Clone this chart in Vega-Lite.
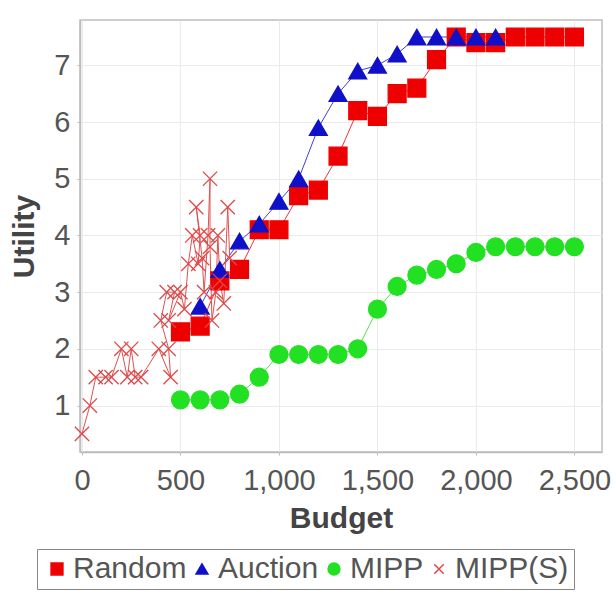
{
  "$schema": "https://vega.github.io/schema/vega-lite/v6.json",
  "width": 522,
  "height": 432,
  "autosize": {"type": "none"},
  "padding": {"left": 80, "top": 20, "right": 14, "bottom": 157},
  "background": "white",
  "config": {
    "font": "Liberation Sans",
    "view": {"stroke": "#bdbdbd", "strokeWidth": 1.5},
    "axis": {
      "labelFont": "Liberation Sans",
      "labelFontSize": 29,
      "labelColor": "#555555",
      "titleFont": "Liberation Sans",
      "titleFontSize": 30,
      "titleFontWeight": "bold",
      "titleColor": "#444444",
      "gridColor": "#ebebeb",
      "gridWidth": 1,
      "domainColor": "#bdbdbd",
      "domainWidth": 1.5,
      "tickColor": "#bdbdbd",
      "tickSize": 3
    },
    "legend": {
      "orient": "none", "legendX": -43, "legendY": 529,
      "direction": "horizontal",
      "labelFont": "Liberation Sans", "labelFontSize": 30, "labelColor": "#555555",
      "symbolSize": 140, "labelOffset": 1, "columnPadding": 0,
      "strokeColor": "#888888", "padding": 5,
      "symbolStrokeWidth": 1.5
    }
  },
  "data": {"values": [
      {"series": "Random", "budget": 500, "utility": 2.3},
      {"series": "Random", "budget": 600, "utility": 2.4},
      {"series": "Random", "budget": 700, "utility": 3.2},
      {"series": "Random", "budget": 800, "utility": 3.4},
      {"series": "Random", "budget": 900, "utility": 4.1},
      {"series": "Random", "budget": 1000, "utility": 4.1},
      {"series": "Random", "budget": 1100, "utility": 4.7},
      {"series": "Random", "budget": 1200, "utility": 4.8},
      {"series": "Random", "budget": 1300, "utility": 5.4},
      {"series": "Random", "budget": 1400, "utility": 6.2},
      {"series": "Random", "budget": 1500, "utility": 6.1},
      {"series": "Random", "budget": 1600, "utility": 6.5},
      {"series": "Random", "budget": 1700, "utility": 6.6},
      {"series": "Random", "budget": 1800, "utility": 7.1},
      {"series": "Random", "budget": 1900, "utility": 7.5},
      {"series": "Random", "budget": 2000, "utility": 7.4},
      {"series": "Random", "budget": 2100, "utility": 7.4},
      {"series": "Random", "budget": 2200, "utility": 7.5},
      {"series": "Random", "budget": 2300, "utility": 7.5},
      {"series": "Random", "budget": 2400, "utility": 7.5},
      {"series": "Random", "budget": 2500, "utility": 7.5},
      {"series": "Auction", "budget": 600, "utility": 2.75},
      {"series": "Auction", "budget": 700, "utility": 3.4},
      {"series": "Auction", "budget": 800, "utility": 3.9},
      {"series": "Auction", "budget": 900, "utility": 4.2},
      {"series": "Auction", "budget": 1000, "utility": 4.6},
      {"series": "Auction", "budget": 1100, "utility": 5.0},
      {"series": "Auction", "budget": 1200, "utility": 5.9},
      {"series": "Auction", "budget": 1300, "utility": 6.5},
      {"series": "Auction", "budget": 1400, "utility": 6.9},
      {"series": "Auction", "budget": 1500, "utility": 7.0},
      {"series": "Auction", "budget": 1600, "utility": 7.2},
      {"series": "Auction", "budget": 1700, "utility": 7.5},
      {"series": "Auction", "budget": 1800, "utility": 7.5},
      {"series": "Auction", "budget": 1900, "utility": 7.5},
      {"series": "Auction", "budget": 2000, "utility": 7.5},
      {"series": "Auction", "budget": 2100, "utility": 7.5},
      {"series": "MIPP", "budget": 500, "utility": 1.1},
      {"series": "MIPP", "budget": 600, "utility": 1.1},
      {"series": "MIPP", "budget": 700, "utility": 1.1},
      {"series": "MIPP", "budget": 800, "utility": 1.2},
      {"series": "MIPP", "budget": 900, "utility": 1.5},
      {"series": "MIPP", "budget": 1000, "utility": 1.9},
      {"series": "MIPP", "budget": 1100, "utility": 1.9},
      {"series": "MIPP", "budget": 1200, "utility": 1.9},
      {"series": "MIPP", "budget": 1300, "utility": 1.9},
      {"series": "MIPP", "budget": 1400, "utility": 2.0},
      {"series": "MIPP", "budget": 1500, "utility": 2.7},
      {"series": "MIPP", "budget": 1600, "utility": 3.1},
      {"series": "MIPP", "budget": 1700, "utility": 3.3},
      {"series": "MIPP", "budget": 1800, "utility": 3.4},
      {"series": "MIPP", "budget": 1900, "utility": 3.5},
      {"series": "MIPP", "budget": 2000, "utility": 3.7},
      {"series": "MIPP", "budget": 2100, "utility": 3.8},
      {"series": "MIPP", "budget": 2200, "utility": 3.8},
      {"series": "MIPP", "budget": 2300, "utility": 3.8},
      {"series": "MIPP", "budget": 2400, "utility": 3.8},
      {"series": "MIPP", "budget": 2500, "utility": 3.8},
      {"series": "MIPP(S)", "i": 1, "budget": 0, "utility": 0.5},
      {"series": "MIPP(S)", "i": 2, "budget": 40, "utility": 1.0},
      {"series": "MIPP(S)", "i": 3, "budget": 70, "utility": 1.5},
      {"series": "MIPP(S)", "i": 4, "budget": 120, "utility": 1.5},
      {"series": "MIPP(S)", "i": 5, "budget": 150, "utility": 1.5},
      {"series": "MIPP(S)", "i": 6, "budget": 200, "utility": 2.0},
      {"series": "MIPP(S)", "i": 7, "budget": 230, "utility": 1.5},
      {"series": "MIPP(S)", "i": 8, "budget": 250, "utility": 2.0},
      {"series": "MIPP(S)", "i": 9, "budget": 270, "utility": 1.5},
      {"series": "MIPP(S)", "i": 10, "budget": 300, "utility": 1.5},
      {"series": "MIPP(S)", "i": 11, "budget": 390, "utility": 2.0},
      {"series": "MIPP(S)", "i": 12, "budget": 450, "utility": 1.5},
      {"series": "MIPP(S)", "i": 13, "budget": 440, "utility": 2.0},
      {"series": "MIPP(S)", "i": 14, "budget": 400, "utility": 2.5},
      {"series": "MIPP(S)", "i": 15, "budget": 430, "utility": 3.0},
      {"series": "MIPP(S)", "i": 16, "budget": 470, "utility": 3.0},
      {"series": "MIPP(S)", "i": 17, "budget": 440, "utility": 2.5},
      {"series": "MIPP(S)", "i": 18, "budget": 500, "utility": 3.0},
      {"series": "MIPP(S)", "i": 19, "budget": 520, "utility": 2.7},
      {"series": "MIPP(S)", "i": 20, "budget": 540, "utility": 3.5},
      {"series": "MIPP(S)", "i": 21, "budget": 560, "utility": 4.0},
      {"series": "MIPP(S)", "i": 22, "budget": 590, "utility": 3.5},
      {"series": "MIPP(S)", "i": 23, "budget": 600, "utility": 4.0},
      {"series": "MIPP(S)", "i": 24, "budget": 580, "utility": 4.5},
      {"series": "MIPP(S)", "i": 25, "budget": 610, "utility": 3.6},
      {"series": "MIPP(S)", "i": 26, "budget": 620, "utility": 3.0},
      {"series": "MIPP(S)", "i": 27, "budget": 640, "utility": 4.0},
      {"series": "MIPP(S)", "i": 28, "budget": 650, "utility": 5.0},
      {"series": "MIPP(S)", "i": 29, "budget": 650, "utility": 3.8},
      {"series": "MIPP(S)", "i": 30, "budget": 660, "utility": 2.5},
      {"series": "MIPP(S)", "i": 31, "budget": 680, "utility": 3.0},
      {"series": "MIPP(S)", "i": 32, "budget": 690, "utility": 4.0},
      {"series": "MIPP(S)", "i": 33, "budget": 700, "utility": 3.2},
      {"series": "MIPP(S)", "i": 34, "budget": 720, "utility": 2.8},
      {"series": "MIPP(S)", "i": 35, "budget": 740, "utility": 4.5},
      {"series": "MIPP(S)", "i": 36, "budget": 750, "utility": 3.6}
  ]},
  "encoding": {
    "x": {
      "field": "budget", "type": "quantitative",
      "scale": {"domain": [-10, 2640], "nice": false, "zero": false},
      "axis": {"title": "Budget", "values": [0, 500, 1000, 1500, 2000, 2500], "format": ",d", "labelPadding": 11, "titlePadding": 8, "labelFlush": false}
    },
    "y": {
      "field": "utility", "type": "quantitative",
      "scale": {"domain": [0.18, 7.8], "nice": false, "zero": false},
      "axis": {"title": "Utility", "values": [1, 2, 3, 4, 5, 6, 7], "labelPadding": 7, "titlePadding": 14}
    }
  },
  "layer": [
    {
      "transform": [{"filter": "datum.series !== 'MIPP(S)'"}],
      "mark": {"type": "line", "strokeWidth": 1, "opacity": 0.8},
      "encoding": {
        "color": {"field": "series", "type": "nominal", "legend": null,
          "scale": {"domain": ["Random", "Auction", "MIPP"], "range": ["#ee0000", "#1010c8", "#22e022"]}}
      }
    },
    {
      "transform": [{"filter": "datum.series === 'MIPP(S)'"}],
      "mark": {"type": "line", "strokeWidth": 1, "color": "#e05050"},
      "encoding": {"order": {"field": "i", "type": "quantitative"}}
    },
    {
      "mark": {"type": "point", "filled": true, "size": 320, "opacity": 1, "strokeWidth": 1.3},
      "encoding": {
        "fill": {"field": "series", "type": "nominal", "title": null,
          "scale": {"domain": ["Random", "Auction", "MIPP", "MIPP(S)"], "range": ["#ee0000", "#1010c8", "#22e022", "#e04848"]}},
        "stroke": {"field": "series", "type": "nominal", "title": null,
          "scale": {"domain": ["Random", "Auction", "MIPP", "MIPP(S)"], "range": ["#ee0000", "#1010c8", "#22e022", "#e04848"]}},
        "shape": {"field": "series", "type": "nominal", "title": null,
          "scale": {"domain": ["Random", "Auction", "MIPP", "MIPP(S)"], "range": ["square", "triangle-up", "circle", "M-0.8,-0.8L0.8,0.8M0.8,-0.8L-0.8,0.8"]}}
      }
    }
  ]
}
